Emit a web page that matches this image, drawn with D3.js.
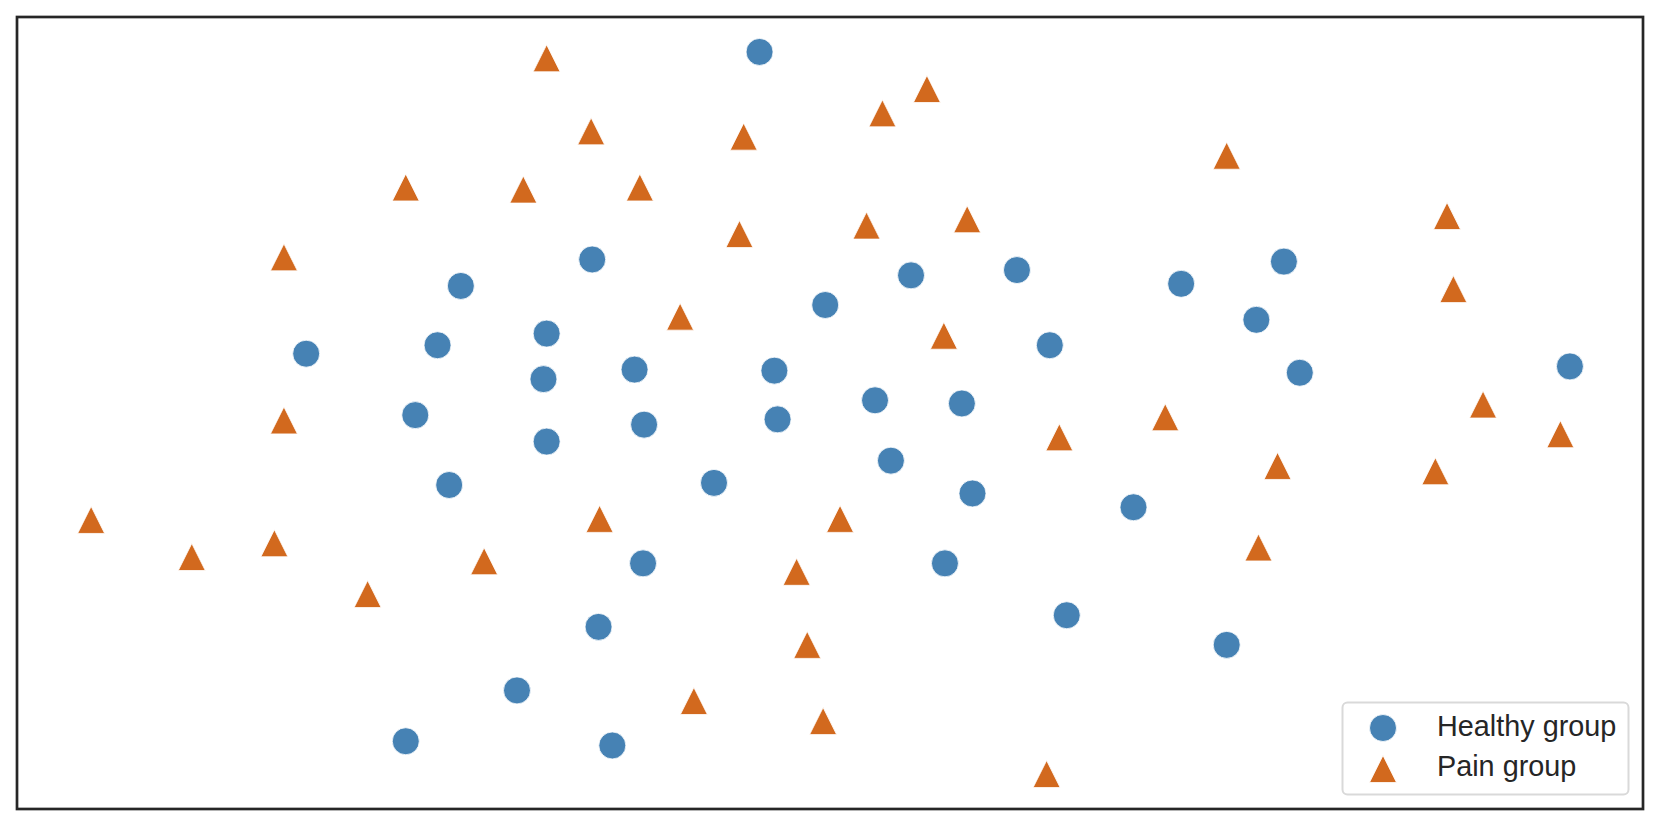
<!DOCTYPE html>
<html>
<head>
<meta charset="utf-8">
<script src="https://cdn.jsdelivr.net/npm/d3@7"></script>
<style>
  html, body { margin: 0; padding: 0; background: #fff; }
  svg { display: block; }
</style>
</head>
<body>
<svg width="1661" height="827"></svg>
<script>
// embedding coordinates (arbitrary units)
const healthyX = [70.1, 54.3, 41.9, 27.3, 39.7, 50.0, 49.7, 58.3, 37.6, 50.0, 59.2, 40.8, 65.8,
    71.5, 71.8, 76.3, 84.4, 81.0, 89.2, 82.5, 90.2, 94.4, 97.5, 109.9, 119.6, 117.0, 121.1,
    146.6, 105.4, 87.6, 99.1, 114.2, 59.1, 54.9, 47.2, 36.7, 56.2];
const healthyY = [71.5, 51.9, 49.4, 43.0, 43.8, 44.9, 40.6, 41.5, 37.2, 34.7, 36.3, 30.6, 30.8,
    41.4, 36.8, 47.6, 50.4, 38.6, 38.3, 32.9, 29.8, 50.9, 43.8, 49.6, 51.7, 46.2, 41.2,
    41.8, 28.5, 23.2, 18.3, 15.5, 23.2, 17.2, 11.2, 6.4, 6.0];

const painX = [50.0, 54.2, 36.7, 47.8, 58.8, 68.6, 81.7, 85.9, 25.2, 68.2, 80.2, 89.7, 114.2,
    135.0, 135.6, 62.6, 87.5, 25.2, 98.4, 108.4, 138.4, 145.7, 119.0, 133.9, 7.0, 16.5, 24.3,
    33.1, 44.1, 55.0, 77.7, 73.6, 117.2, 74.6, 63.9, 76.1, 97.2];
const painY = [70.9, 64.0, 58.7, 58.5, 58.7, 63.5, 65.7, 68.0, 52.1, 54.3, 55.1, 55.7, 61.7,
    56.0, 49.1, 46.5, 44.7, 36.7, 35.1, 37.0, 38.2, 35.4, 32.4, 31.9, 27.3, 23.8, 25.1,
    20.3, 23.4, 27.4, 27.4, 22.4, 24.7, 15.5, 10.2, 8.3, 3.3];

const groupNames = ["Healthy group", "Pain group"];
const groupColors = ["#4682B4", "#D2691E"];

const svg = d3.select("svg");
const box = {l: 17, t: 17, r: 1643, b: 809};

const x = d3.scaleLinear().domain([0, 153.5]).range([box.l, box.r]);
const y = d3.scaleLinear().domain([0, 74.8]).range([box.b, box.t]);

const ms = 27; // marker size in px
const tri = s => `M0,${-s / 2}L${s / 2},${s / 2}L${-s / 2},${s / 2}Z`;

const healthy = healthyX.map((v, i) => ({x: v, y: healthyY[i]}));
const pain = painX.map((v, i) => ({x: v, y: painY[i]}));

const plot = svg.append("g");

plot.selectAll("circle.healthy")
    .data(healthy)
    .join("circle")
    .attr("class", "healthy")
    .attr("cx", d => x(d.x))
    .attr("cy", d => y(d.y))
    .attr("r", ms / 2)
    .attr("fill", groupColors[0])
    .attr("stroke", "white")
    .attr("stroke-width", 0.8);

plot.selectAll("path.pain")
    .data(pain)
    .join("path")
    .attr("class", "pain")
    .attr("d", tri(ms))
    .attr("transform", d => `translate(${x(d.x)},${y(d.y)})`)
    .attr("fill", groupColors[1])
    .attr("stroke", "white")
    .attr("stroke-width", 0.8);

// frame
svg.append("rect")
    .attr("x", box.l).attr("y", box.t)
    .attr("width", box.r - box.l).attr("height", box.b - box.t)
    .attr("fill", "none")
    .attr("stroke", "#262626")
    .attr("stroke-width", 2.7);

// legend
const lg = svg.append("g");
lg.append("rect")
    .attr("x", 1342.5).attr("y", 702.5)
    .attr("width", 286).attr("height", 92)
    .attr("rx", 5)
    .attr("fill", "white").attr("fill-opacity", 0.8)
    .attr("stroke", "#d9d9d9").attr("stroke-width", 2);

lg.append("circle")
    .attr("cx", 1383).attr("cy", 728).attr("r", ms / 2)
    .attr("fill", groupColors[0]).attr("stroke", "white").attr("stroke-width", 0.8);
lg.append("path")
    .attr("d", tri(ms))
    .attr("transform", "translate(1383,769)")
    .attr("fill", groupColors[1]).attr("stroke", "white").attr("stroke-width", 0.8);

lg.selectAll("text")
    .data(groupNames)
    .join("text")
    .attr("x", 1437)
    .attr("y", (d, i) => 736 + i * 40)
    .attr("font-family", "'Liberation Sans', Arial, sans-serif")
    .attr("font-size", 28.8)
    .attr("fill", "#262626")
    .text(d => d);
</script>
</body>
</html>
